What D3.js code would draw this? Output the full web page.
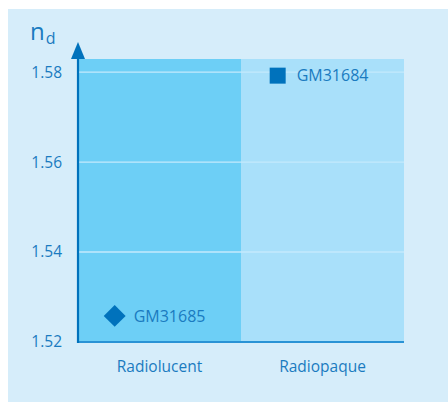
<!DOCTYPE html>
<html><head><meta charset="utf-8">
<script src="https://cdn.jsdelivr.net/npm/d3@7"></script>
<style>html,body{margin:0;padding:0;background:#fff;}svg{display:block;}</style>
</head><body>
<script>
const categories = ["Radiolucent", "Radiopaque"];
const pointNames = ["GM31685", "GM31684"];
const pointCategories = ["Radiolucent", "Radiopaque"];
const pointValues = [1.5258, 1.5792];
const pointShapes = ["diamond", "square"];
const yTicks = [1.52, 1.54, 1.56, 1.58];
const yMax = 1.5829;

const W = 448, H = 402;
const m = {left: 78, right: 404, top: 59, bottom: 342};
const svg = d3.select("body").append("svg").attr("width", W).attr("height", H);
const font = "'Open Sans', sans-serif";
const textCol = "#1a7bc0";

svg.append("rect").attr("x", 8).attr("y", 9).attr("width", W - 8).attr("height", H - 9).attr("fill", "#d6edfa");

const x = d3.scaleBand().domain(categories).range([m.left, m.right]).padding(0);
const y = d3.scaleLinear().domain([yTicks[0], yMax]).range([m.bottom, m.top]);
const bandFill = ["#6dcff6", "#a9e0fa"];

svg.selectAll("rect.band").data(categories).join("rect").attr("class", "band")
  .attr("x", d => x(d)).attr("y", y(yMax)).attr("width", x.bandwidth())
  .attr("height", y(yTicks[0]) - y(yMax)).attr("fill", (d, i) => bandFill[i]);

// gridlines
svg.selectAll("line.grid").data(yTicks.slice(1)).join("line").attr("class", "grid")
  .attr("x1", m.left).attr("x2", m.right).attr("y1", d => y(d)).attr("y2", d => y(d))
  .attr("stroke", "#c4eafc").attr("stroke-width", 1.3);

// y axis via d3.axisLeft (text only)
const yAxis = svg.append("g").attr("transform", `translate(${m.left},0)`)
  .call(d3.axisLeft(y).tickValues(yTicks).tickFormat(d3.format(".2f")).tickSize(0).tickPadding(16));
yAxis.select(".domain").remove();
yAxis.selectAll("text").attr("font-family", font).attr("font-size", 15.5).attr("fill", textCol);

// x axis labels
const xAxis = svg.append("g").attr("transform", `translate(0,${m.bottom})`)
  .call(d3.axisBottom(x).tickSize(0).tickPadding(19));
xAxis.select(".domain").remove();
xAxis.selectAll("text").attr("font-family", font).attr("font-size", 15.5).attr("fill", textCol);

// bottom axis line
svg.append("line").attr("x1", m.left).attr("x2", m.right).attr("y1", m.bottom).attr("y2", m.bottom)
  .attr("stroke", "#2a93d5").attr("stroke-width", 2);
// left axis with arrow
svg.append("line").attr("x1", m.left).attr("x2", m.left).attr("y1", m.bottom + 1).attr("y2", 50)
  .attr("stroke", "#0072bc").attr("stroke-width", 2.2);
svg.append("path").attr("d", `M${m.left},42 L${m.left + 7},59 L${m.left - 7},59 Z`).attr("fill", "#0072bc");

// axis title n_d
const t = svg.append("text").attr("x", 30).attr("y", 40).attr("font-family", font).attr("fill", textCol);
t.append("tspan").attr("font-size", 24).text("n");
t.append("tspan").attr("font-size", 16).attr("dx", 1).attr("dy", 4).text("d");

// points
const px = c => x(c) + x.bandwidth() * 0.225;
const sym = svg.selectAll("path.pt").data(pointValues).join("path").attr("class", "pt")
  .attr("d", (d, i) => d3.symbol().type(d3.symbolSquare).size(pointShapes[i] === "diamond" ? 240 : 256)())
  .attr("transform", (d, i) => `translate(${px(pointCategories[i])},${y(d)}) rotate(${pointShapes[i] === "diamond" ? 45 : 0})`)
  .attr("fill", "#0072bc");
svg.selectAll("text.pl").data(pointValues).join("text").attr("class", "pl")
  .attr("x", (d, i) => px(pointCategories[i]) + 19).attr("y", d => y(d)).attr("dy", "0.36em")
  .attr("font-family", font).attr("font-size", 16).attr("fill", textCol)
  .text((d, i) => pointNames[i]);
</script>
</body></html>
